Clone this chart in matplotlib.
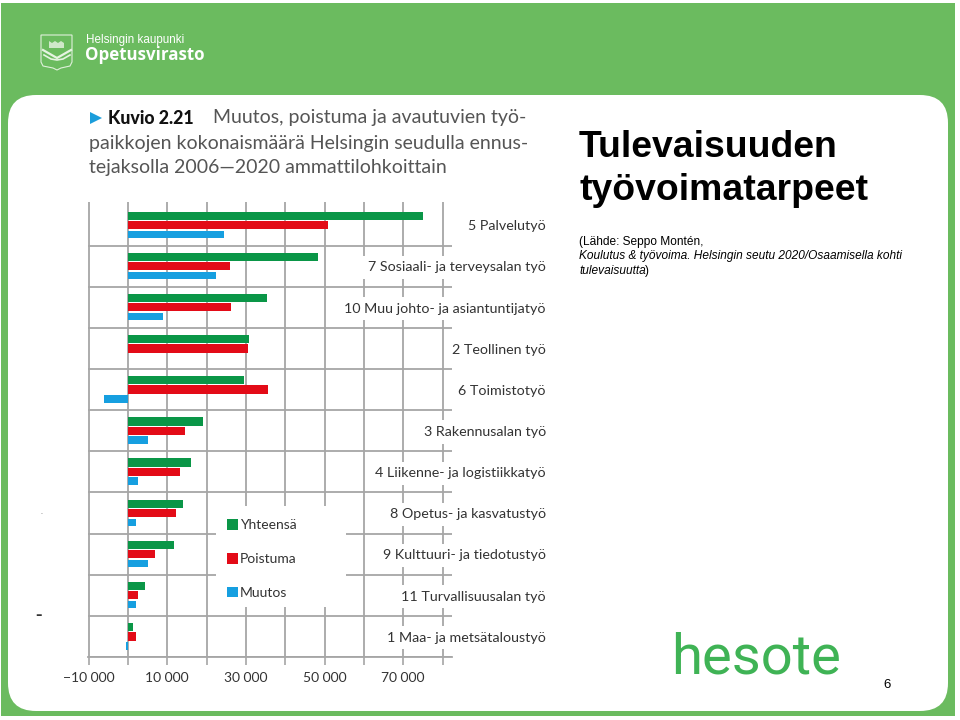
import matplotlib.pyplot as plt
from matplotlib.patches import FancyBboxPatch, Polygon, Rectangle

# Data
categories = ['5 Palvelutyö', '7 Sosiaali- ja terveysalan työ', '10 Muu johto- ja asiantuntijatyö',
              '2 Teollinen työ', '6 Toimistotyö', '3 Rakennusalan työ', '4 Liikenne- ja logistiikkatyö',
              '8 Opetus- ja kasvatustyö', '9 Kulttuuri- ja tiedotustyö', '11 Turvallisuusalan työ',
              '1 Maa- ja metsätaloustyö']
yhteensa = [75100, 48400, 35400, 30800, 29600, 19200, 16000, 14000, 11800, 4300, 1350]
poistuma = [50800, 25900, 26200, 30500, 35600, 14400, 13300, 12100, 6800, 2500, 1950]
muutos = [24450, 22300, 9000, 0, -6200, 5000, 2500, 1950, 5200, 1950, -400]
x_ticks = [-10000, 0, 10000, 20000, 30000, 40000, 50000, 60000, 70000, 80000]
x_tick_labels = ['\u221210 000', '', '10 000', '', '30 000', '', '50 000', '', '70 000', '']

GREEN_BG = '#6bbb5f'
W, H = 960, 720
LABEL_FONT = 'Lato'
ARIAL = 'Liberation Sans'

fig = plt.figure(figsize=(9.6, 7.2), dpi=100)

# Slide background, in pixel coordinates
bg = fig.add_axes([0, 0, 1, 1], zorder=0)
bg.set_xlim(0, W)
bg.set_ylim(H, 0)
bg.axis('off')
bg.add_patch(Rectangle((1, 3), 954, 713, fc=GREEN_BG, ec='none'))
bg.add_patch(FancyBboxPatch((36, 123), 884, 560, boxstyle='round,pad=28,rounding_size=28', fc='white', ec='none'))

# City logo
shield = [(41, 35), (72, 35), (72, 62), (70, 66), (61, 68), (57, 70), (53, 68), (43, 66), (41, 62)]
bg.add_patch(Polygon(shield, closed=True, fc='none', ec='#dff0da', lw=0.8))
bg.add_patch(Polygon([(49, 41), (52, 43), (55, 41), (58, 43), (61, 41), (64, 43), (64, 48), (49, 48)],
                     closed=True, fc='#cfe8c9', ec='none'))
bg.plot([43, 50, 57, 64, 71], [50, 54, 58, 54, 50], color='#e6f4e2', lw=1.6)
bg.plot([44, 51, 57, 63, 70], [55, 59, 60, 59, 55], color='#e6f4e2', lw=1.2)
bg.text(86, 40, 'Helsingin kaupunki', color='white', family=ARIAL, fontsize=8.4, va='center')
bg.text(85, 55, 'Opetusvirasto', color='white', family='Open Sans', weight='bold', fontsize=12.2, va='center')

# Figure caption
bg.add_patch(Polygon([(90, 112), (102, 118), (90, 124)], closed=True, fc='#1b9ddb', ec='none'))
bg.text(108, 118, 'Kuvio 2.21', family=LABEL_FONT, weight='black', fontsize=12.8, color='#111111', va='center')
bg.text(213, 118, 'Muutos, poistuma ja avautuvien työ-', family=LABEL_FONT, fontsize=14, color='#555555', va='center')
bg.text(89, 143, 'paikkojen kokonaismäärä Helsingin seudulla ennus-', family=LABEL_FONT, fontsize=14,
        color='#555555', va='center')
bg.text(89, 167, 'tejaksolla 2006—2020 ammattilohkoittain', family=LABEL_FONT, fontsize=14, color='#555555',
        va='center')

# Right hand text
bg.text(579, 157, 'Tulevaisuuden', family=ARIAL, weight='bold', fontsize=26.9, color='black', va='baseline')
bg.text(579, 200, 'työvoimatarpeet', family=ARIAL, weight='bold', fontsize=26.9, color='black', va='baseline')
bg.text(579, 245, '(Lähde: Seppo Montén,', family=ARIAL, fontsize=8.6, color='black', va='baseline')
bg.text(579, 259.5, 'Koulutus & työvoima. Helsingin seutu 2020/Osaamisella kohti', family=ARIAL, style='italic',
        fontsize=8.6, color='black', va='baseline')
bg.text(579, 274, 'tulevaisuutta', family=ARIAL, style='italic', fontsize=8.6, color='black', va='baseline')
bg.text(644.5, 274, ')', family=ARIAL, fontsize=8.6, color='black', va='baseline')
bg.text(671, 673, 'hesote', family='Roboto', fontsize=40.5, color='#3fb355', va='baseline')
bg.text(887, 685, '6', family=ARIAL, fontsize=9.5, color='black', ha='center', va='center')

# Scan specks on the left edge
bg.text(38, 615, '-', family=ARIAL, weight='bold', fontsize=14, color='#333333', ha='center', va='center')
bg.text(41, 512, '.', family=ARIAL, fontsize=5, color='#555555', ha='center', va='center')

# Bar chart
ax = fig.add_axes([88 / W, 1 - 657 / H, (452 - 88) / W, (657 - 202) / H], zorder=1)
ax.patch.set_alpha(0)
y = list(range(len(categories)))
ax.barh([i - 0.226 for i in y], yhteensa, height=0.2, color='#0a9647', label='Yhteensä', zorder=2)
ax.barh(y, poistuma, height=0.2, color='#e30b17', label='Poistuma', zorder=2)
ax.barh([i + 0.226 for i in y], muutos, height=0.185, color='#169fe0', label='Muutos', zorder=2)

ax.set_xlim(-10150, 82400)
ax.set_ylim(10.5, -0.56)
ax.set_xticks(x_ticks)
ax.set_xticklabels(x_tick_labels, family=LABEL_FONT, fontsize=10, color='#333333')
ax.set_yticks([i + 0.5 for i in y])
ax.set_yticklabels([])
ax.tick_params(axis='x', length=6, width=1.2, color='#a6a6a6', pad=5)
ax.tick_params(axis='y', length=0)
ax.grid(True, color='#a6a6a6', lw=1.3)
ax.set_axisbelow(True)
for name in ['top', 'right', 'left']:
    ax.spines[name].set_visible(False)
ax.spines['bottom'].set_color('#a6a6a6')
ax.spines['bottom'].set_linewidth(1.3)

# Row labels sit on white boxes that cut the grid
for i, name in zip(y, categories):
    ax.text(106300, i + 0.03, name, family=LABEL_FONT, fontsize=10.3, color='#333333', ha='right', va='center',
            zorder=3, bbox=dict(fc='white', ec='none', pad=4), clip_on=False)

# Legend on a white box
ax.add_patch(Rectangle((216 / W, 1 - 607 / H), 130 / W, 101 / H, transform=fig.transFigure, fc='white', ec='none',
                       zorder=3))
leg = ax.legend(loc='center left', bbox_to_anchor=(227 / W, 1 - 559 / H), bbox_transform=fig.transFigure,
                frameon=False, prop={'family': LABEL_FONT, 'size': 10}, handlelength=0.8, handleheight=0.8,
                handletextpad=0.15, labelspacing=1.55, borderpad=0, borderaxespad=0)
leg.set_zorder(4)
for text in leg.get_texts():
    text.set_color('#333333')

plt.savefig('out.png', dpi=100)
